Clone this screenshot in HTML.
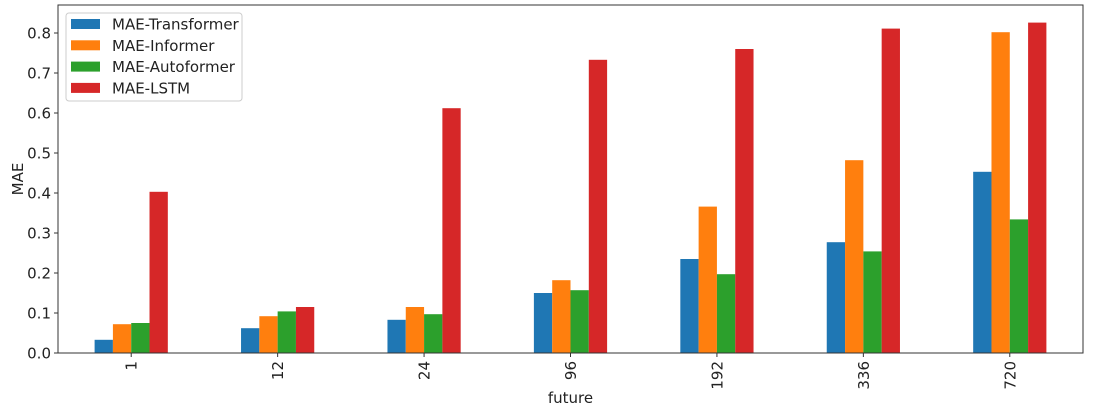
<!DOCTYPE html>
<html><head><meta charset="utf-8"><style>
body{margin:0;background:#fff;}
svg text{font-family:"DejaVu Sans","Liberation Sans",sans-serif;fill:#222;}
</style></head><body>
<svg id="chart" width="1097" height="413" xmlns="http://www.w3.org/2000/svg"></svg>
<script>
const categories=["1","12","24","96","192","336","720"];
const seriesNames=["MAE-Transformer","MAE-Informer","MAE-Autoformer","MAE-LSTM"];
const transformer=[0.033,0.062,0.083,0.150,0.235,0.277,0.453];
const informer=[0.072,0.092,0.115,0.182,0.366,0.482,0.802];
const autoformer=[0.075,0.104,0.097,0.157,0.197,0.254,0.334];
const lstm=[0.403,0.115,0.612,0.733,0.760,0.811,0.826];
const yTicks=["0.0","0.1","0.2","0.3","0.4","0.5","0.6","0.7","0.8"];
const colors=["#1f77b4","#ff7f0e","#2ca02c","#d62728"];
const series=[transformer,informer,autoformer,lstm];
const L=58,R=1083,T=5,B=353;
const svg=document.getElementById('chart');
const NS="http://www.w3.org/2000/svg";
function mk(t,a,p){const e=document.createElementNS(NS,t);for(const k in a)e.setAttribute(k,a[k]);(p||svg).appendChild(e);return e;}
const step=(R-L)/categories.length;
function xc(i){return L+step*(i+0.5);}
function y(v){return B-v*400;}
const bw=step*0.125;
series.forEach((s,si)=>{s.forEach((v,i)=>{
 const r=mk('rect',{x:xc(i)-2*bw+si*bw,y:y(v),width:bw,height:B-y(v),fill:colors[si]});
 
 
});});
const ax=mk('rect',{x:L,y:T,width:R-L,height:B-T,fill:'none',stroke:'#333','stroke-width':1});


yTicks.forEach(t=>{const yy=y(parseFloat(t));
 mk('line',{x1:L-4,x2:L,y1:yy,y2:yy,stroke:'#333'});
 const tx=mk('text',{x:L-7,y:yy+5.5,'text-anchor':'end','font-size':15});tx.textContent=t;
 
 
});
categories.forEach((c,i)=>{const xx=xc(i);
 mk('line',{x1:xx,x2:xx,y1:B,y2:B+4,stroke:'#333'});
 const tx=mk('text',{x:0,y:0,'text-anchor':'end','font-size':15,transform:`translate(${xx+5.5},${B+8}) rotate(-90)`});tx.textContent=c;
 
 
});
const xt=mk('text',{x:(L+R)/2,y:403,'text-anchor':'middle','font-size':15});xt.textContent='future';


const yt=mk('text',{x:0,y:0,'text-anchor':'middle','font-size':15,transform:`translate(23,${(T+B)/2}) rotate(-90)`});yt.textContent='MAE';


const lg=mk('g',{});


mk('rect',{x:66,y:13,width:176,height:88,rx:3,fill:'#fff',stroke:'#ccc'},lg);
seriesNames.forEach((n,i)=>{const yy=24+i*21.3;
 const g=mk('g',{},lg);
 
 
 mk('rect',{x:71,y:yy-5,width:29,height:10,fill:colors[i]},g);
 const t=mk('text',{x:112,y:yy+5.5,'font-size':15},g);t.textContent=n;
});
</script>
</body></html>
